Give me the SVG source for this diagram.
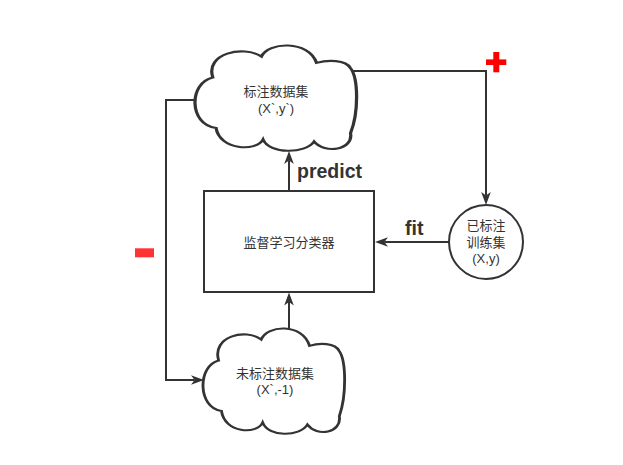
<svg xmlns="http://www.w3.org/2000/svg" width="623" height="465" viewBox="0 0 623 465">
  <style>
    .shape { fill: #ffffff; stroke: #333333; stroke-width: 2; }
    .cloud { fill: #ffffff; stroke: #333333; stroke-width: 2; vector-effect: non-scaling-stroke; }
    .edge { fill: none; stroke: #333333; stroke-width: 2; marker-end: url(#arrow); }
    .lbl { font-family: "Liberation Sans", "Noto Sans CJK SC", sans-serif; font-size: 13px; fill: #333333; text-anchor: middle; }
    .elbl { font-family: "Liberation Sans", Arial, sans-serif; font-size: 19.5px; font-weight: bold; fill: #333333; }
  </style>
  <defs>
    <path id="cloudShape" d="M 11 31 C 6 8, 30 0, 41 11 C 45 -3, 70 -5, 75 17 C 82 14, 93 14, 96 22 C 101 32, 101 65, 96 84 C 98 100, 80 104, 73.5 92 C 68 104, 46 104, 42 90 C 38 102, 15 100, 13 79 C -4 76, -4 36, 11 31 Z"/>
    <marker id="arrow" markerUnits="userSpaceOnUse" viewBox="-4 -6 15 12" markerWidth="15" markerHeight="12" refX="0" refY="0" orient="auto">
      <path d="M 9.5 0 L -3.5 -4.8 L 0 0 L -3.5 4.8 Z" fill="#333333"/>
    </marker>
  </defs>
  <rect width="623" height="465" fill="#ffffff"/>

  <g id="labeled-set">
    <use href="#cloudShape" class="cloud" transform="translate(195,45) scale(1.62,1.05)"/>
    <text class="lbl" x="276" y="96">标注数据集</text>
    <text class="lbl" x="276" y="113">(X`,y`)</text>
  </g>

  <g id="unlabeled-set">
    <use href="#cloudShape" class="cloud" transform="translate(203,328) scale(1.42,1.05)"/>
    <text class="lbl" x="275" y="378">未标注数据集</text>
    <text class="lbl" x="275" y="394">(X`,-1)</text>
  </g>

  <g id="classifier">
    <rect class="shape" x="204" y="191" width="170" height="101"/>
    <text class="lbl" x="289" y="247">监督学习分类器</text>
  </g>

  <g id="training-set">
    <circle class="shape" cx="486" cy="242" r="37"/>
    <text class="lbl" x="486" y="230">已标注</text>
    <text class="lbl" x="486" y="247">训练集</text>
    <text class="lbl" x="486" y="263">(X,y)</text>
  </g>

  <g id="connectors">
    <path class="edge" d="M 352 71 H 486 V 195.5"/>
    <path class="edge" d="M 449 242 H 384.5"/>
    <path class="edge" d="M 289 191 V 160.5"/>
    <path class="edge" d="M 289 329 V 302"/>
    <path class="edge" d="M 196 100 H 166 V 380 H 194.5"/>
    <text class="elbl" x="297" y="178">predict</text>
    <text class="elbl" x="405" y="235">fit</text>
  </g>

  <g id="signs">
    <rect x="493.3" y="52" width="6" height="20.3" fill="#ff0000"/>
    <rect x="486" y="59.4" width="20.3" height="5.6" fill="#ff0000"/>
    <rect x="135" y="248.3" width="19" height="9" fill="#ff3333"/>
  </g>
</svg>
